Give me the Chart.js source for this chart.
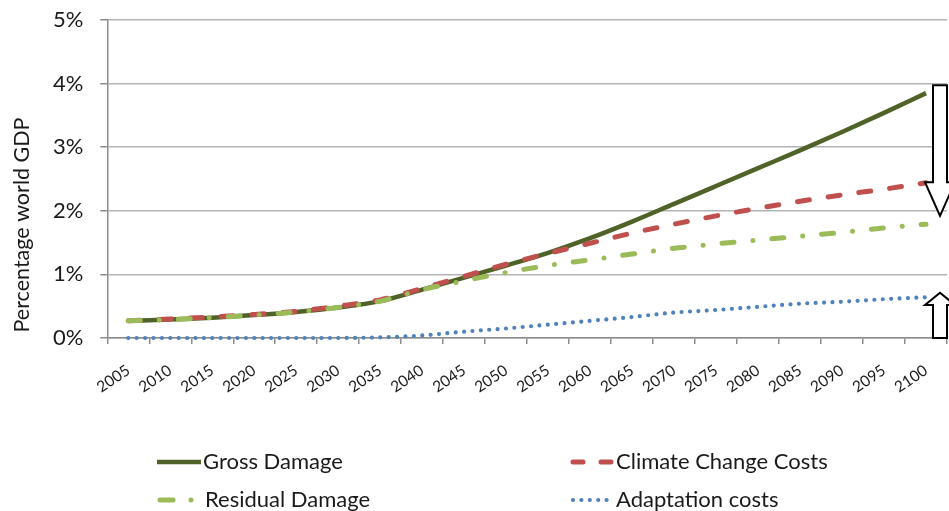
<!DOCTYPE html>
<html>
<head>
<meta charset="utf-8">
<script src="https://cdn.jsdelivr.net/npm/chart.js@4.4.0/dist/chart.umd.min.js"></script>
<style>
html,body{margin:0;padding:0;background:#fff;}
#wrap{width:949px;height:511px;position:relative;}
</style>
</head>
<body>
<div id="wrap"><canvas id="c"></canvas></div>
<script>
const years = ['2005','2010','2015','2020','2025','2030','2035','2040','2045','2050','2055','2060','2065','2070','2075','2080','2085','2090','2095','2100'];
const grossDamage = [0.27,0.29,0.32,0.36,0.41,0.48,0.58,0.76,0.95,1.14,1.34,1.57,1.83,2.11,2.39,2.67,2.95,3.24,3.54,3.85];
const climateChangeCosts = [0.27,0.30,0.33,0.37,0.42,0.50,0.60,0.78,0.97,1.16,1.33,1.49,1.65,1.79,1.92,2.04,2.15,2.25,2.34,2.44];
const residualDamage = [0.27,0.29,0.32,0.36,0.41,0.48,0.58,0.76,0.90,1.03,1.14,1.23,1.32,1.41,1.48,1.54,1.60,1.66,1.73,1.79];
const adaptationCosts = [0,0,0,0,0,0,0.01,0.04,0.10,0.15,0.21,0.27,0.33,0.40,0.44,0.49,0.54,0.57,0.61,0.64];
const yTicks = [0,1,2,3,4,5];
const yTitle = 'Percentage world GDP';
const legendItems = ['Gross Damage','Climate Change Costs','Residual Damage','Adaptation costs'];

const FONT = 'Lato, "Open Sans", sans-serif';
const TXT = '#1a1a1a';
const C_GROSS = '#4F6228', C_CLIM = '#C0504D', C_RES = '#9BBB59', C_ADAPT = '#4F81BD';
const styles = [
  {color:C_GROSS, width:4.5, dash:[]},
  {color:C_CLIM, width:5, dash:[12,19]},
  {color:C_RES, width:5, dash:[12,19,0,19]},
  {color:C_ADAPT, width:4.2, dash:[0,8.4]}
];

const extras = {
  id:'extras',
  afterDraw(chart){
    const ctx = chart.ctx, ca = chart.chartArea, y = chart.scales.y;
    ctx.save();
    ctx.fillStyle = TXT;
    ctx.font = '21.5px ' + FONT;
    ctx.translate(22, 225);
    ctx.rotate(-Math.PI/2);
    ctx.textAlign = 'center'; ctx.textBaseline = 'middle';
    ctx.fillText(yTitle, 0, 0);
    ctx.restore();

    // arrows (annotation shapes)
    ctx.save();
    ctx.fillStyle = '#fff'; ctx.strokeStyle = '#000'; ctx.lineWidth = 2; ctx.lineJoin = 'miter';
    const cx = ca.right - 7;
    const topY = y.getPixelForValue(grossDamage[grossDamage.length-1]) - 8;
    const headY = y.getPixelForValue(2.45);
    const tipY = y.getPixelForValue(1.92);
    ctx.beginPath();
    ctx.moveTo(cx-7, topY); ctx.lineTo(cx+7, topY); ctx.lineTo(cx+7, headY);
    ctx.lineTo(cx+15, headY); ctx.lineTo(cx, tipY); ctx.lineTo(cx-15, headY);
    ctx.lineTo(cx-7, headY); ctx.closePath(); ctx.fill(); ctx.stroke();
    const uTip = y.getPixelForValue(0.71), uHead = y.getPixelForValue(0.52), uBot = y.getPixelForValue(0);
    ctx.beginPath();
    ctx.moveTo(cx-7, uBot); ctx.lineTo(cx-7, uHead); ctx.lineTo(cx-15, uHead);
    ctx.lineTo(cx, uTip); ctx.lineTo(cx+15, uHead); ctx.lineTo(cx+7, uHead);
    ctx.lineTo(cx+7, uBot); ctx.closePath(); ctx.fill(); ctx.stroke();
    ctx.restore();

    // legend
    ctx.save();
    const pos = [[157,462],[570,462],[157,500],[570,500]];
    ctx.font = '22px ' + FONT;
    ctx.textBaseline = 'middle';
    pos.forEach((p,i)=>{
      const s = styles[i];
      ctx.strokeStyle = s.color; ctx.lineWidth = s.width; ctx.lineCap = i===0 ? 'butt' : 'round';
      let d = s.dash;
      if (i===1) d = [10,18];
      if (i===2) d = [13,18,0,30];
      ctx.setLineDash(d);
      ctx.beginPath();
      const x0 = p[0] + (i===0?0:3);
      ctx.moveTo(x0, p[1]); ctx.lineTo(p[0]+44, p[1]); ctx.stroke();
      ctx.setLineDash([]);
      ctx.fillStyle = TXT;
      ctx.fillText(legendItems[i], p[0] + (i===2?48:46), p[1]);
    });
    ctx.restore();
  }
};

const mk = (label, data, i, order) => ({
  label, data, order,
  borderColor: styles[i].color, backgroundColor: styles[i].color,
  borderWidth: styles[i].width, borderDash: styles[i].dash,
  borderCapStyle: i===0 ? 'butt' : 'round',
  pointRadius: 0, fill: false, cubicInterpolationMode: 'monotone', clip: false
});

new Chart(document.getElementById('c'), {
  type: 'line',
  data: {
    labels: years,
    datasets: [
      mk(legendItems[0], grossDamage, 0, 4),
      mk(legendItems[1], climateChangeCosts, 1, 3),
      mk(legendItems[2], residualDamage, 2, 2),
      mk(legendItems[3], adaptationCosts, 3, 1)
    ]
  },
  options: {
    responsive: true, maintainAspectRatio: false, animation: false,
    devicePixelRatio: 1,
    layout: { padding: { top: 20, right: 2, left: 0, bottom: 0 } },
    plugins: { legend: { display: false }, tooltip: { enabled: false } },
    scales: {
      x: {
        type: 'category', offset: true,
        grid: { offset: true, drawOnChartArea: false, drawTicks: true, tickLength: 6, color: '#8c8c8c', lineWidth: 1.5 },
        border: { color: '#8c8c8c', width: 1.5 },
        ticks: { color: TXT, font: { family: FONT, size: 15.5 }, minRotation: 34, maxRotation: 34, autoSkip: false, padding: 17 },
        afterFit(s){ s.height = 173; s.paddingLeft = 0; s.paddingRight = 0; }
      },
      y: {
        min: 0, max: 5,
        afterBuildTicks(s){ s.ticks = yTicks.map(v=>({value:v})); },
        grid: { color: '#b3b3b3', lineWidth: 1.5, tickLength: 7, tickColor: '#8c8c8c' },
        border: { color: '#8c8c8c', width: 1.5 },
        ticks: { color: TXT, font: { family: FONT, size: 22 }, padding: 17, callback: v => v + '%' },
        afterFit(s){ s.width = 107.3; s.paddingTop = 0; s.paddingBottom = 0; }
      }
    }
  },
  plugins: [extras]
});
</script>
</body>
</html>
